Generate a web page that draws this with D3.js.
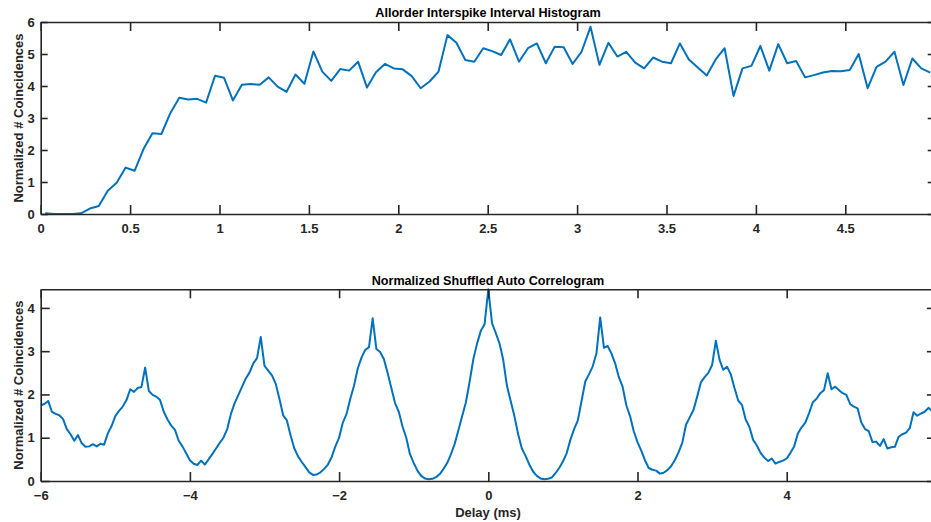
<!DOCTYPE html>
<html>
<head>
<meta charset="utf-8">
<script src="https://cdn.jsdelivr.net/npm/d3@7"></script>
<style>
  body { margin: 0; background: #fff; }
  svg { display: block; font-family: "Liberation Sans", Arial, Helvetica, sans-serif; font-weight: bold; }
</style>
</head>
<body>
<div id="chart"></div>
<script>
// all-order ISI histogram, bin centres at 0.025 + 0.05*i ms
const isiBinStart = 0.025;
const isiBinWidth = 0.05;
const isiValues = [
  0.02, 0, 0, 0, 0.02, 0.17, 0.25, 0.73, 0.98, 1.45,
  1.35, 2.03, 2.52, 2.50, 3.15, 3.63, 3.58, 3.60, 3.48, 4.32,
  4.26, 3.55, 4.04, 4.06, 4.04, 4.27, 3.98, 3.82, 4.36, 4.07,
  5.08, 4.45, 4.16, 4.53, 4.48, 4.76, 3.95, 4.43, 4.69, 4.55,
  4.52, 4.31, 3.93, 4.14, 4.45, 5.59, 5.35, 4.81, 4.76, 5.18,
  5.09, 4.97, 5.46, 4.76, 5.18, 5.33, 4.71, 5.23, 5.21, 4.69,
  5.07, 5.85, 4.66, 5.35, 4.92, 5.07, 4.73, 4.55, 4.89, 4.76,
  4.71, 5.33, 4.83, 4.58, 4.33, 4.83, 5.18, 3.69, 4.55, 4.63,
  5.25, 4.48, 5.31, 4.71, 4.78, 4.27, 4.34, 4.42, 4.47, 4.46,
  4.50, 5.00, 3.93, 4.60, 4.76, 5.07, 4.03, 4.86, 4.55, 4.42
];
const isiXTicks = [0, 0.5, 1, 1.5, 2, 2.5, 3, 3.5, 4, 4.5];
const isiYTicks = [0, 1, 2, 3, 4, 5, 6];

// shuffled autocorrelogram, delays -6 .. 5.95 ms in 0.05 steps
const sacDelayStart = -6;
const sacDelayStep = 0.05;
const sacValues = [
  1.75, 1.78, 1.85, 1.60, 1.55, 1.52, 1.43, 1.20, 1.08, 0.93,
  1.06, 0.87, 0.79, 0.80, 0.85, 0.80, 0.86, 0.84, 1.10, 1.27,
  1.50, 1.62, 1.72, 1.87, 2.12, 2.06, 2.15, 2.17, 2.62, 2.08,
  1.99, 1.95, 1.87, 1.60, 1.42, 1.28, 1.18, 0.93, 0.80, 0.64,
  0.48, 0.40, 0.37, 0.47, 0.38, 0.50, 0.62, 0.75, 0.88,
  1.00, 1.20, 1.55, 1.80, 1.99, 2.18, 2.37, 2.51, 2.72, 2.84,
  3.33, 2.66, 2.55, 2.44, 2.25, 1.90, 1.52, 1.40, 1.05, 0.75,
  0.57, 0.44, 0.32, 0.20, 0.14, 0.15, 0.20, 0.28, 0.38, 0.55,
  0.80, 1.00, 1.35, 1.55, 1.90, 2.20, 2.60, 2.85, 3.03, 3.09,
  3.76, 3.05, 2.98, 2.82, 2.50, 2.15, 1.80,
  1.60, 1.26, 1.00, 0.62, 0.42, 0.24, 0.12, 0.06, 0.04, 0.05,
  0.09, 0.16, 0.28, 0.42, 0.62, 0.86, 1.18, 1.50, 1.82, 2.30,
  2.82, 3.18, 3.47, 3.62, 4.43, 3.65, 3.42, 3.18, 2.80, 2.20,
  1.85, 1.50, 1.08, 0.75, 0.58, 0.38, 0.22, 0.12, 0.06, 0.04,
  0.05, 0.08, 0.18, 0.30, 0.45, 0.64, 0.95, 1.20,
  1.40, 1.85, 2.30, 2.47, 2.65, 2.95, 3.78, 3.08, 3.12, 2.95,
  2.72, 2.40, 2.18, 1.75, 1.50, 1.15, 0.90, 0.70, 0.48, 0.30,
  0.26, 0.24, 0.17, 0.19, 0.25, 0.34, 0.48, 0.66, 0.88, 1.30,
  1.47, 1.64, 1.95, 2.28, 2.40, 2.50, 2.68, 3.24, 2.80, 2.57,
  2.64, 2.47, 2.15, 1.86, 1.76, 1.42, 1.25,
  0.95, 0.82, 0.65, 0.54, 0.46, 0.52, 0.40, 0.44, 0.47, 0.52,
  0.65, 0.80, 1.10, 1.24, 1.35, 1.57, 1.82, 1.90, 2.03, 2.10,
  2.49, 2.12, 2.18, 2.10, 2.03, 1.99, 1.78, 1.72, 1.68, 1.35,
  1.20, 1.15, 0.90, 0.91, 0.81, 0.97, 0.75, 0.78, 0.79, 1.02,
  1.08, 1.12, 1.22, 1.59, 1.51, 1.56, 1.60, 1.69, 1.62
];
const sacXTicks = [-6, -4, -2, 0, 2, 4];
const sacYTicks = [0, 1, 2, 3, 4];

const width = 931;
const height = 522;
const lineColor = "#0072BD";
const axisColor = "#262626";

const svg = d3.select("#chart")
    .append("svg")
    .attr("width", width)
    .attr("height", height);

svg.append("rect").attr("width", width).attr("height", height).attr("fill", "#fff");

function panel(opts) {
    const {left, right, top, bottom, xDomain, yDomain, xTicks, yTicks, xFmt, data, title, titleY, yTickLen} = opts;
    const x = d3.scaleLinear().domain(xDomain).range([left, right]);
    const y = d3.scaleLinear().domain(yDomain).range([bottom, top]);

    const clipId = "clip" + Math.round(top);
    svg.append("clipPath").attr("id", clipId)
        .append("rect").attr("x", left).attr("y", top - 2)
        .attr("width", right - left).attr("height", bottom - top + 2);

    svg.append("path")
        .datum(data)
        .attr("clip-path", `url(#${clipId})`)
        .attr("fill", "none")
        .attr("stroke", lineColor)
        .attr("stroke-width", 2)
        .attr("stroke-linejoin", "round")
        .attr("d", d3.line().x(d => x(d[0])).y(d => y(d[1])));

    svg.append("g")
        .attr("transform", `translate(0,${bottom})`)
        .call(d3.axisBottom(x).tickValues(xTicks).tickFormat(xFmt).tickSizeInner(-9).tickSizeOuter(0).tickPadding(10));
    svg.append("g")
        .attr("transform", `translate(0,${top})`)
        .call(d3.axisTop(x).tickValues(xTicks).tickFormat("").tickSizeInner(-9).tickSizeOuter(0));
    svg.append("g")
        .attr("transform", `translate(${left},0)`)
        .call(d3.axisLeft(y).tickValues(yTicks).tickFormat(d3.format("d")).tickSizeInner(-yTickLen).tickSizeOuter(0).tickPadding(6));
    svg.append("g")
        .attr("transform", `translate(${right},0)`)
        .call(d3.axisRight(y).tickValues(yTicks).tickFormat("").tickSizeInner(-yTickLen).tickSizeOuter(0));

    svg.selectAll(".domain, .tick line").attr("stroke", axisColor).attr("stroke-width", 1.6);
    svg.selectAll(".tick text").attr("fill", axisColor)
        .style("font-size", "13px").style("font-weight", "bold")
        .style("font-family", "'Liberation Sans', Arial, sans-serif");

    svg.append("text")
        .attr("x", 488)
        .attr("y", titleY)
        .attr("text-anchor", "middle")
        .attr("fill", "#000")
        .style("font-size", "12.6px")
        .text(title);

    svg.append("text")
        .attr("transform", `translate(23,${(top + bottom) / 2}) rotate(-90)`)
        .attr("text-anchor", "middle")
        .attr("fill", axisColor)
        .style("font-size", "13px")
        .text("Normalized # Coincidences");
}

panel({
    left: 40.7, right: 934.7, top: 22, bottom: 214,
    xDomain: [0, 5], yDomain: [0, 6],
    xTicks: isiXTicks, yTicks: isiYTicks,
    xFmt: d3.format(""),
    data: isiValues.map((v, i) => [isiBinStart + isiBinWidth * i, v]),
    title: "Allorder Interspike Interval Histogram", titleY: 16.5, yTickLen: 7
});

panel({
    left: 40.7, right: 935.9, top: 289.3, bottom: 481,
    xDomain: [-6, 6], yDomain: [0, d3.max(sacValues)],
    xTicks: sacXTicks, yTicks: sacYTicks,
    xFmt: d3.format("d"),
    data: sacValues.map((v, i) => [sacDelayStart + sacDelayStep * i, v]),
    title: "Normalized Shuffled Auto Correlogram", titleY: 285, yTickLen: 9
});

svg.append("text")
    .attr("x", 488)
    .attr("y", 517)
    .attr("text-anchor", "middle")
    .attr("fill", axisColor)
    .style("font-size", "13px")
    .text("Delay (ms)");
</script>
</body>
</html>
